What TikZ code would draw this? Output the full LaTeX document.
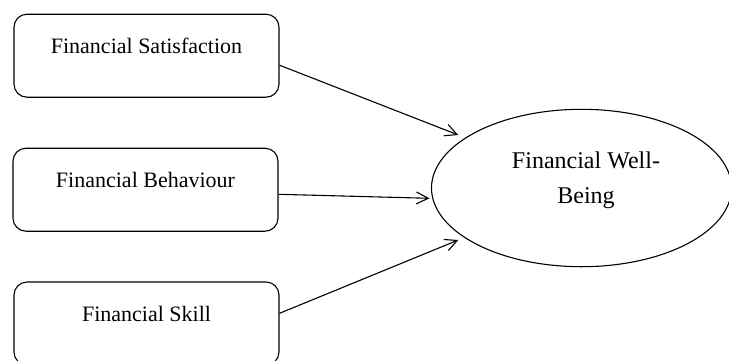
\documentclass[tikz,border=0pt]{standalone}
\usepackage{fontspec}
\setmainfont{Liberation Serif}
\usetikzlibrary{shapes.geometric,arrows.meta}
\tikzset{
  x=1pt, y=-1pt,
  varbox/.style={draw=black, line width=1.1pt, rounded corners=13pt, rectangle,
    minimum width=265pt, minimum height=83pt, inner sep=0pt,
    font=\fontsize{22}{26}\selectfont, text height=15pt, text depth=19.8pt},
  outcome/.style={draw=black, line width=1.1pt, ellipse, minimum width=300pt,
    minimum height=157.4pt, inner sep=0pt},
  outtext/.style={align=center, inner sep=0pt, font=\fontsize{24}{35}\selectfont},
  arr/.style={draw=black, line width=1.1pt, -{Straight Barb[length=12pt,width=12pt,line width=1.1pt]}}
}
\begin{document}
\begin{tikzpicture}
\useasboundingbox (0,0) rectangle (729,360);
\clip (0,0) rectangle (729,360);
\node[varbox] (b1) at (146.5,55.7) {Financial Satisfaction};
\node[varbox] (b2) at (145.5,189.7) {Financial Behaviour};
\node[varbox] (b3) at (146.5,323.5) {Financial Skill};
\node[outcome] (fwb) at (581.5,188) {};
\node[outtext] (fwbt) at ([xshift=4.5pt,yshift=7.6pt]fwb.center) {Financial Well-\\Being};
\coordinate (e1) at (458.3,135);
\coordinate (e2) at (429.5,198.3);
\coordinate (e3) at (458.3,240);
\draw[arr] ([yshift=-9.5pt]b1.east) -- (e1);
\draw[arr] ([yshift=-4.6pt]b2.east) -- (e2);
\draw[arr] ([yshift=10.2pt]b3.east) -- (e3);
\end{tikzpicture}
\end{document}
